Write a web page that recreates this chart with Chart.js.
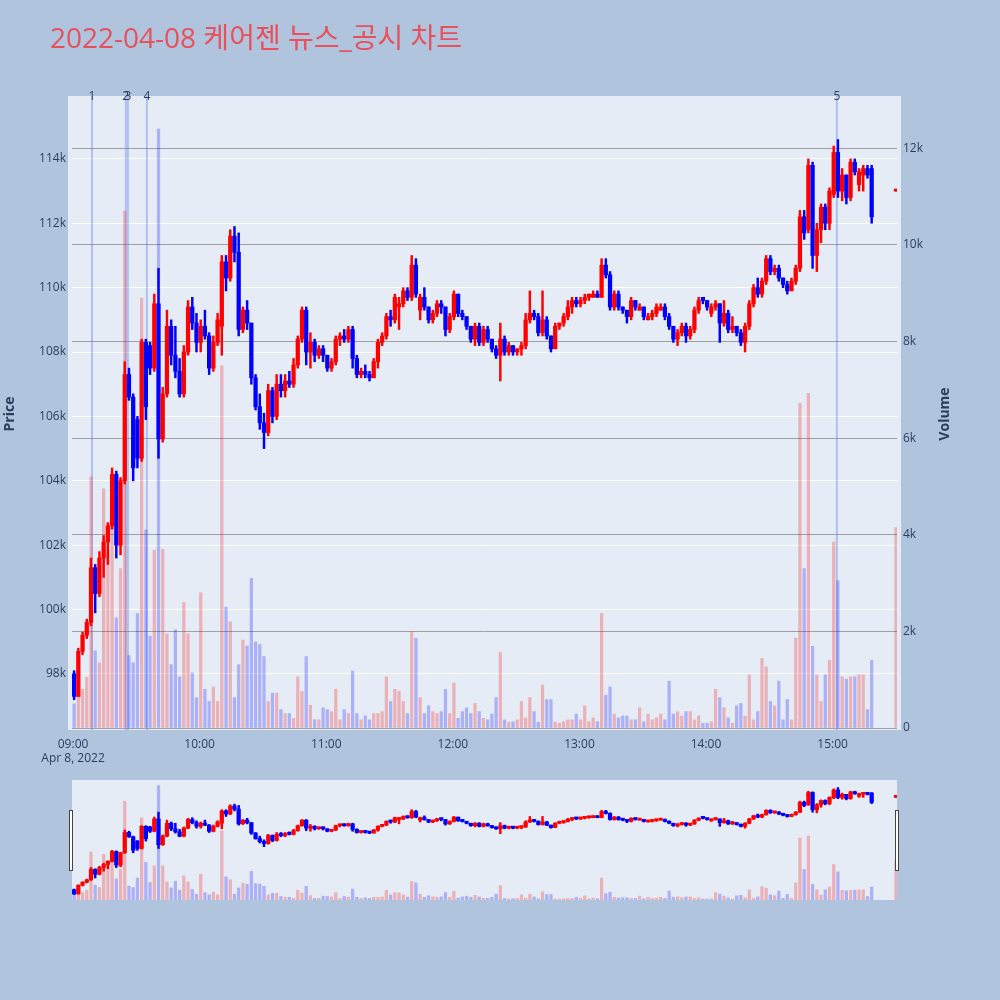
<!DOCTYPE html>
<html lang="ko">
<head>
<meta charset="utf-8">
<title>케어젠 뉴스_공시 차트</title>
<script src="https://cdn.jsdelivr.net/npm/chart.js@4.4.1/dist/chart.umd.min.js"></script>
<style>
    html, body { margin: 0; padding: 0; background: #b0c4de; }
    #wrap { position: relative; width: 1000px; height: 1000px; overflow: hidden; }
    #grafico { position: absolute; left: 0; top: 0; }
    #slider { position: absolute; left: 64px; top: 780px; }
</style>
</head>
<body>
<div id="wrap">
    <canvas id="grafico" width="1000" height="770"></canvas>
    <canvas id="slider" width="841" height="120"></canvas>
</div>
<script>
const titulo = '2022-04-08 케어젠 뉴스_공시 차트'
const dataEixo = 'Apr 8, 2022'

// candles de 2 minutos (o ultimo e o leilao de fechamento)
const horarios = [
    '09:00','09:02','09:04','09:06','09:08','09:10','09:12','09:14','09:16','09:18',
    '09:20','09:22','09:24','09:26','09:28','09:30','09:32','09:34','09:36','09:38',
    '09:40','09:42','09:44','09:46','09:48','09:50','09:52','09:54','09:56','09:58',
    '10:00','10:02','10:04','10:06','10:08','10:10','10:12','10:14','10:16','10:18',
    '10:20','10:22','10:24','10:26','10:28','10:30','10:32','10:34','10:36','10:38',
    '10:40','10:42','10:44','10:46','10:48','10:50','10:52','10:54','10:56','10:58',
    '11:00','11:02','11:04','11:06','11:08','11:10','11:12','11:14','11:16','11:18',
    '11:20','11:22','11:24','11:26','11:28','11:30','11:32','11:34','11:36','11:38',
    '11:40','11:42','11:44','11:46','11:48','11:50','11:52','11:54','11:56','11:58',
    '12:00','12:02','12:04','12:06','12:08','12:10','12:12','12:14','12:16','12:18',
    '12:20','12:22','12:24','12:26','12:28','12:30','12:32','12:34','12:36','12:38',
    '12:40','12:42','12:44','12:46','12:48','12:50','12:52','12:54','12:56','12:58',
    '13:00','13:02','13:04','13:06','13:08','13:10','13:12','13:14','13:16','13:18',
    '13:20','13:22','13:24','13:26','13:28','13:30','13:32','13:34','13:36','13:38',
    '13:40','13:42','13:44','13:46','13:48','13:50','13:52','13:54','13:56','13:58',
    '14:00','14:02','14:04','14:06','14:08','14:10','14:12','14:14','14:16','14:18',
    '14:20','14:22','14:24','14:26','14:28','14:30','14:32','14:34','14:36','14:38',
    '14:40','14:42','14:44','14:46','14:48','14:50','14:52','14:54','14:56','14:58',
    '15:00','15:02','15:04','15:06','15:08','15:10','15:12','15:14','15:16','15:18',
    '15:30'
]

const abertura = [
    98000,97300,98700,99200,99600,101300,100500,101600,102100,102600,
    104200,102000,104000,107300,106600,105900,104700,108300,108200,107500,
    109500,105300,106700,108800,107900,107400,106700,108000,109400,108900,
    108300,108800,108500,107500,108300,108800,110800,110300,111600,111100,
    108700,109300,108900,107200,106300,105800,105500,106800,106000,107000,
    106800,107100,107000,107600,108400,109300,108000,108300,107900,108100,
    107900,107500,107700,108400,108500,108400,108700,107800,107300,107400,
    107300,107200,107700,108300,108500,109100,109000,109400,109500,109900,
    109700,110700,109300,109700,109400,109000,109200,109500,109400,108700,
    109100,109800,109200,109100,108800,108400,108800,108300,108700,108400,
    108100,107900,108400,108000,108200,108000,108100,108200,109000,109200,
    109100,108600,109000,108500,108100,108800,108900,109100,109400,109600,
    109500,109600,109700,109700,109800,109700,110700,110400,109400,109800,
    109400,109300,109100,109600,109300,109400,109000,109100,109200,109300,
    109400,109100,108800,108400,108600,108800,108500,108700,109300,109700,
    109600,109200,109400,109500,108900,109200,108700,108800,108600,108300,
    108800,109500,110000,109800,110200,110900,110500,110600,110300,110100,
    109900,110200,110600,112200,111800,113800,111000,111800,112500,112000,
    112900,114200,113000,113500,112800,113900,113200,113500,113700,113700,
    113000
]
const maxima = [
    98100,98800,99300,99700,101600,101400,101800,102300,102700,104400,
    104300,104100,107700,107500,106700,106000,108400,108400,108300,109800,
    110600,106900,109300,109000,108800,107800,108200,109600,109700,109200,
    109000,109300,108600,108500,109200,111000,111000,111800,111900,111700,
    109400,109600,108900,107300,106700,106100,107000,106900,107300,107300,
    107300,107400,107800,108500,109400,109400,108600,108400,108200,108200,
    107900,107800,108500,108600,108700,108800,108800,107900,107500,107600,
    107400,107800,108400,108600,109200,109300,109800,109700,110000,110000,
    111000,110900,109800,110000,109400,109300,109600,109600,109400,109200,
    109900,109800,109300,109100,108800,108900,108900,108800,108800,108400,
    108200,108900,108500,108300,108200,108100,108300,109200,109900,109300,
    109200,109900,109100,108500,108900,108900,109200,109600,109700,109700,
    109700,109800,109800,109900,109900,110900,110900,110500,109900,109900,
    109400,109300,109700,109600,109500,109400,109200,109300,109500,109500,
    109500,109200,108800,108700,108900,108900,108800,109400,109700,109700,
    109600,109500,109600,109500,109600,109300,109100,108800,108700,108900,
    109600,110100,110300,110300,111000,111000,110700,110700,110300,110200,
    110300,110700,112400,112400,114000,113900,112000,112600,112600,113100,
    114400,114600,113700,113500,114000,114000,113700,113800,113800,113800,
    113000
]
const minima = [
    97200,97300,98600,99100,99500,99900,100400,101000,101400,102500,
    101600,101700,103900,106500,104000,104400,104600,105900,107300,107400,
    104700,105200,106600,107600,107200,106600,106600,107900,108700,108000,
    108000,108400,107300,107400,108200,107900,109900,110200,110800,108500,
    108600,108700,107000,106200,105600,105000,105400,105800,105900,106600,
    106600,106900,106900,107500,108300,107600,107500,107700,107800,107700,
    107400,107400,107600,108200,108300,108300,107500,107200,107200,107200,
    107100,107200,107500,108200,108400,108800,108900,108700,109400,109600,
    109600,109700,109000,109300,108900,108900,109100,109200,108500,108600,
    109000,109100,109000,108700,108300,108200,108200,108200,108300,108000,
    107800,107100,107900,107900,107900,107900,107900,108100,108900,109000,
    108500,108500,108400,108000,108100,108700,108800,109000,109200,109400,
    109400,109500,109600,109700,109700,109700,110300,109300,109300,109300,
    109200,108900,109000,109300,109300,109000,109000,109000,109100,109300,
    109000,108700,108300,108200,108500,108300,108400,108600,109200,109500,
    109300,109100,109300,108300,108800,108600,108600,108500,108200,108000,
    108700,109400,109700,109700,110100,110400,110400,110200,110000,109800,
    109900,110100,110500,111500,111700,110600,110500,111400,111800,111800,
    112800,112800,112700,112600,112700,113500,113000,113000,113400,112000,
    113000
]
const fechamento = [
    97300,98700,99200,99600,101300,100500,101600,102100,102600,104200,
    102000,104000,107300,106600,104400,104700,108300,106300,107500,109500,
    105300,106700,108800,107900,107400,106700,108000,109400,108900,108300,
    108800,108500,107500,108300,109000,110800,110300,111600,111100,108700,
    109300,108900,107200,106300,105800,105500,106800,106000,107000,106800,
    107100,107000,107600,108400,109300,108000,108300,107900,108100,107900,
    107500,107700,108400,108500,108400,108700,107800,107300,107400,107300,
    107200,107700,108300,108500,109100,109000,109700,109500,109900,109700,
    110700,109800,109700,109400,109000,109200,109500,109400,108700,109100,
    109800,109200,109100,108800,108400,108800,108300,108700,108400,108100,
    107900,108400,108000,108200,108000,108100,108200,109000,109200,109100,
    108600,109000,108500,108100,108800,108900,109100,109400,109600,109500,
    109600,109700,109800,109800,109700,110700,110400,109400,109800,109400,
    109300,109100,109600,109400,109400,109100,109100,109200,109400,109400,
    109100,108800,108400,108600,108800,108500,108700,109300,109600,109600,
    109400,109400,109500,108900,109200,108700,108800,108600,108300,108800,
    109500,110000,109800,110200,110900,110500,110600,110300,110100,109900,
    110200,110600,112200,111700,113800,111000,111800,112500,112000,113000,
    114200,113000,113500,112800,113900,113600,113600,113700,113500,112200,
    113000
]
const volume = [
    500,850,800,1050,5200,1600,1350,4950,3700,4200,
    2280,3300,10700,1500,1350,2370,8900,4100,1900,3680,
    12400,3700,1950,1310,2030,1060,2600,1950,1140,630,
    2800,800,550,850,550,7500,2500,2200,630,1310,
    1820,1700,3100,1780,1730,1480,550,720,720,380,
    300,300,200,1060,760,1480,470,170,170,420,
    380,340,800,170,380,300,1180,300,170,250,
    170,300,300,340,1060,550,800,760,550,300,
    1990,1860,630,300,460,340,300,340,800,300,
    930,200,340,420,300,510,340,200,170,290,
    630,1560,170,120,130,170,550,210,630,340,
    120,890,590,590,120,100,130,170,170,290,
    170,460,130,210,130,2370,680,850,290,210,
    250,250,170,170,420,130,290,170,210,290,
    170,970,290,340,250,340,340,170,250,100,
    100,130,800,630,420,210,100,460,510,250,
    1100,170,340,1440,1270,550,460,970,170,590,
    170,1860,6720,3300,6930,1690,1100,550,1100,1400,
    3850,3050,1060,1010,1060,1060,1100,1100,380,1400,
    4150
]

// noticias / disclosures marcadas no grafico
const noticiasHora = ['09:09', '09:25', '09:26', '09:35', '15:02']
const noticiasTexto = ['1', '2', '3', '4', '5']

const horasEixo = ['09:00', '10:00', '11:00', '12:00', '13:00', '14:00', '15:00']
const ticksPreco = [98000, 100000, 102000, 104000, 106000, 108000, 110000, 112000, 114000]
const ticksVolume = [0, 2000, 4000, 6000, 8000, 10000, 12000]

const corTexto = '#2a3f5f'
Chart.defaults.font.family = '"Open Sans", "Noto Sans CJK KR", sans-serif'
Chart.defaults.color = corTexto

function paraMinutos(h) {
    var partes = h.split(':')
    return (Number(partes[0]) - 9) * 60 + Number(partes[1])
}

function posicao(i) {
    // candles de 2 min ficam no meio do intervalo
    var meio = i < horarios.length - 1 ? 0.5 : 0
    return paraMinutos(horarios[i]) + meio
}

function montarDatasets() {
    var sobe = fechamento.map((c, i) => c >= abertura[i])
    return [{
        label: 'volume',
        data: volume.map((v, i) => ({ x: posicao(i), y: v })),
        backgroundColor: sobe.map(s => s ? 'rgba(255,0,0,0.25)' : 'rgba(0,0,255,0.25)'),
        barThickness: 2.6,
        grouped: false,
        yAxisID: 'y2',
        order: 3
    }, {
        label: 'pavio',
        data: horarios.map((h, i) => ({ x: posicao(i), y: [minima[i], maxima[i]] })),
        backgroundColor: sobe.map(s => s ? 'rgb(255,0,0)' : 'rgb(0,0,255)'),
        barThickness: 1.8,
        minBarLength: 2,
        grouped: false,
        yAxisID: 'y',
        order: 2
    }, {
        label: 'corpo',
        data: horarios.map((h, i) => ({ x: posicao(i), y: [abertura[i], fechamento[i]] })),
        backgroundColor: sobe.map(s => s ? 'rgb(255,0,0)' : 'rgb(0,0,255)'),
        barThickness: 3.6,
        minBarLength: 2,
        grouped: false,
        yAxisID: 'y',
        order: 1
    }]
}

const limitesX = { min: -0.5, max: 390.5 }
const limitesPreco = { min: 96320, max: 115830 }
const limitesVolume = { min: 0, max: 13000 }

const fundoPlot = {
    id: 'fundoPlot',
    beforeDraw(chart) {
        var a = chart.chartArea, ctx = chart.ctx
        var folga = chart.canvas.id == 'grafico' ? 4 : 0
        ctx.save()
        ctx.fillStyle = '#e5ecf6'
        ctx.fillRect(a.left - folga, a.top - folga, a.right - a.left + 2 * folga, a.bottom - a.top + folga + 2 * (folga > 0))
        ctx.restore()
    }
}

const linhasNoticias = {
    id: 'linhasNoticias',
    beforeDatasetsDraw(chart) {
        var a = chart.chartArea, ctx = chart.ctx, x = chart.scales.x
        ctx.save()
        ctx.strokeStyle = 'rgba(95,125,240,0.4)'
        ctx.lineWidth = 2
        noticiasHora.forEach(h => {
            var px = x.getPixelForValue(paraMinutos(h))
            ctx.beginPath()
            ctx.moveTo(px, a.top - 4)
            ctx.lineTo(px, a.bottom + 2)
            ctx.stroke()
        })
        ctx.restore()
    },
    afterDraw(chart) {
        var a = chart.chartArea, ctx = chart.ctx, x = chart.scales.x
        ctx.save()
        ctx.fillStyle = corTexto
        ctx.font = '12px "Open Sans", sans-serif'
        ctx.textAlign = 'center'
        ctx.textBaseline = 'middle'
        noticiasHora.forEach((h, i) => {
            ctx.fillText(noticiasTexto[i], x.getPixelForValue(paraMinutos(h)), a.top - 3)
        })
        ctx.restore()
    }
}

const textos = {
    id: 'textos',
    afterDraw(chart) {
        var a = chart.chartArea, ctx = chart.ctx
        var meioY = (a.top + a.bottom) / 2
        ctx.save()
        ctx.fillStyle = '#e8505b'
        ctx.font = '28px "Open Sans", "Noto Sans CJK KR", sans-serif'
        ctx.textBaseline = 'middle'
        ctx.fillText(titulo, 50, 40)

        ctx.fillStyle = corTexto
        ctx.font = 'bold 14px "Open Sans", sans-serif'
        ctx.textAlign = 'center'
        ;[['Price', 10], ['Volume', 945]].forEach(t => {
            ctx.save()
            ctx.translate(t[1], meioY)
            ctx.rotate(-Math.PI / 2)
            ctx.fillText(t[0], 0, 0)
            ctx.restore()
        })
        ctx.restore()
    }
}

const alcas = {
    id: 'alcas',
    afterDraw(chart) {
        var a = chart.chartArea, ctx = chart.ctx
        ctx.save()
        ctx.fillStyle = '#ffffff'
        ctx.strokeStyle = '#444'
        ctx.lineWidth = 1
        ;[a.left - 2.5, a.right - 1.5].forEach(px => {
            ctx.fillRect(px, 30.5, 3, 60)
            ctx.strokeRect(px, 30.5, 3, 60)
        })
        ctx.restore()
    }
}

function carregarGrafico() {
    new Chart(document.getElementById('grafico'), {
        type: 'bar',
        data: { datasets: montarDatasets() },
        options: {
            responsive: false,
            animation: false,
            events: [],
            layout: { padding: { top: 100, left: 0, right: 0, bottom: 0 } },
            plugins: {
                legend: { display: false },
                tooltip: { enabled: false }
            },
            scales: {
                x: {
                    type: 'linear',
                    min: limitesX.min,
                    max: limitesX.max,
                    offset: false,
                    grid: { display: false },
                    border: { display: false },
                    ticks: {
                        autoSkip: false,
                        maxRotation: 0,
                        padding: 1,
                        font: { size: 12 },
                        callback: (v, i) => i == 0 ? [horasEixo[0], dataEixo] : horasEixo[i]
                    },
                    afterBuildTicks: s => { s.ticks = horasEixo.map(h => ({ value: paraMinutos(h) })) },
                    afterFit: s => { s.height = 42 }
                },
                y: {
                    position: 'left',
                    min: limitesPreco.min,
                    max: limitesPreco.max,
                    beginAtZero: false,
                    grid: { color: '#ffffff', lineWidth: 1, drawTicks: false },
                    border: { display: false },
                    ticks: { padding: 6, font: { size: 12 }, callback: v => (v / 1000) + 'k' },
                    afterBuildTicks: s => { s.ticks = ticksPreco.map(v => ({ value: v })) },
                    afterFit: s => { s.width = 72 }
                },
                y2: {
                    position: 'right',
                    min: limitesVolume.min,
                    max: limitesVolume.max,
                    grid: { color: 'rgba(110,110,110,0.6)', lineWidth: 1, drawTicks: false },
                    border: { display: false },
                    ticks: { padding: 6, font: { size: 12 }, callback: v => v == 0 ? '0' : (v / 1000) + 'k' },
                    afterBuildTicks: s => { s.ticks = ticksVolume.map(v => ({ value: v })) },
                    afterFit: s => { s.width = 103 }
                }
            }
        },
        plugins: [fundoPlot, linhasNoticias, textos]
    })

    // range slider
    new Chart(document.getElementById('slider'), {
        type: 'bar',
        data: { datasets: montarDatasets() },
        options: {
            responsive: false,
            animation: false,
            events: [],
            layout: { padding: { top: 0, left: 8, right: 8, bottom: 0 } },
            plugins: {
                legend: { display: false },
                tooltip: { enabled: false }
            },
            scales: {
                x: { type: 'linear', display: false, offset: false, min: limitesX.min, max: limitesX.max },
                y: { display: false, min: limitesPreco.min, max: limitesPreco.max, beginAtZero: false },
                y2: { display: false, min: limitesVolume.min, max: limitesVolume.max }
            }
        },
        plugins: [fundoPlot, alcas]
    })
}

carregarGrafico()
</script>
</body>
</html>
